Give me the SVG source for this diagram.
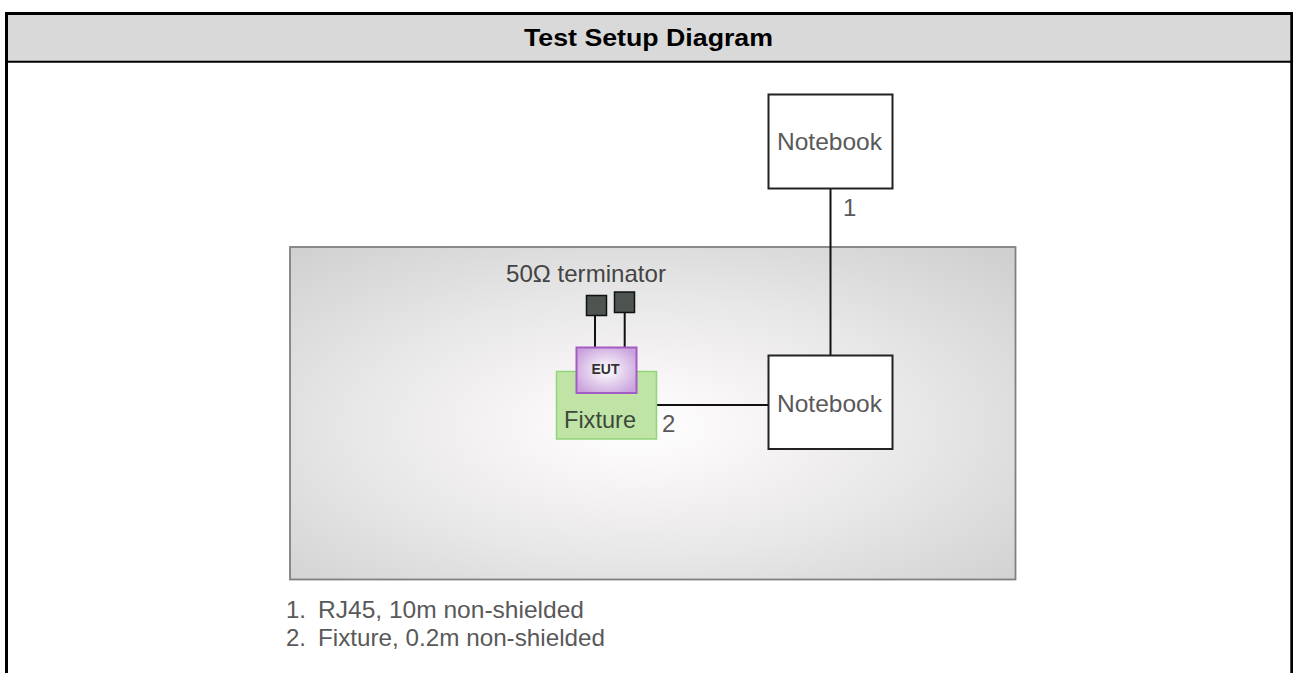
<svg xmlns="http://www.w3.org/2000/svg" width="1293" height="673" viewBox="0 0 1293 673">
<style>
.lbl{font-family:"Liberation Sans",Arial,sans-serif;font-size:24px;fill:#595959}
.box{fill:#fff;stroke:#222;stroke-width:2}
.wire{stroke:#111;stroke-width:2;fill:none}
.term{fill:#4e544f;stroke:#111;stroke-width:1.5}
</style>
<defs>
<radialGradient id="bg" cx="0.48" cy="0.54" r="0.72">
<stop offset="0" stop-color="#ffffff"/>
<stop offset="0.15" stop-color="#faf8f9"/>
<stop offset="0.35" stop-color="#f1eff0"/>
<stop offset="0.55" stop-color="#e8e7e8"/>
<stop offset="0.72" stop-color="#dedede"/>
<stop offset="1" stop-color="#d0d0d0"/>
</radialGradient>
<radialGradient id="eutg" cx="0.5" cy="0.5" r="0.6">
<stop offset="0" stop-color="#ffffff"/>
<stop offset="1" stop-color="#c9a2dc"/>
</radialGradient>
</defs>
<rect width="1293" height="673" fill="#fff"/>
<g id="frame">
<rect x="8" y="15" width="1283" height="46" fill="#d9d9d9"/>
<line x1="8" y1="61.7" x2="1291" y2="61.7" stroke="#000" stroke-width="2"/>
<path d="M6.5 673 V13.5 H1291.8 V673" fill="none" stroke="#000" stroke-width="3"/>
<text x="524" y="46" textLength="249" lengthAdjust="spacingAndGlyphs" font-family="Liberation Sans,Arial,sans-serif" font-size="24.5" font-weight="bold" fill="#000">Test Setup Diagram</text>
</g>
<g id="chamber">
<rect x="290" y="247" width="725.5" height="332.5" fill="url(#bg)" stroke="#808080" stroke-width="1.8"/>
</g>
<g id="connectors">
<line class="wire" x1="830.5" y1="188" x2="830.5" y2="355"/>
<line class="wire" x1="657" y1="405" x2="768" y2="405"/>
<line class="wire" x1="595" y1="316" x2="595" y2="347"/>
<line class="wire" x1="624.7" y1="313" x2="624.7" y2="347"/>
<text class="lbl" x="843" y="216" font-size="22">1</text>
<text class="lbl" x="662" y="432" font-size="22">2</text>
</g>
<g id="notebook1">
<rect class="box" x="768.5" y="94.5" width="124" height="94"/>
<text class="lbl" x="777" y="150" textLength="105" lengthAdjust="spacingAndGlyphs">Notebook</text>
</g>
<g id="notebook2">
<rect class="box" x="768.5" y="355.5" width="124" height="93.5"/>
<text class="lbl" x="777" y="412" textLength="105" lengthAdjust="spacingAndGlyphs">Notebook</text>
</g>
<g id="terminator">
<text class="lbl" x="506" y="282" textLength="160" lengthAdjust="spacingAndGlyphs" style="fill:#444">50Ω terminator</text>
<rect class="term" x="586.5" y="295.5" width="20" height="20"/>
<rect class="term" x="614.5" y="292" width="20" height="20.5"/>
</g>
<g id="fixture">
<rect x="556.5" y="371.5" width="100" height="67.5" fill="#bfe4a6" stroke="#8fd57a" stroke-width="1.5"/>
<text class="lbl" x="564" y="428" textLength="72" lengthAdjust="spacingAndGlyphs" style="fill:#3d4a3a">Fixture</text>
</g>
<g id="eut">
<rect x="576.5" y="347.5" width="60" height="45.5" fill="url(#eutg)" stroke="#a35cc4" stroke-width="2"/>
<text x="605.5" y="374" text-anchor="middle" font-family="Liberation Sans,Arial,sans-serif" font-size="14" font-weight="bold" fill="#333">EUT</text>
</g>
<g id="legend">
<text class="lbl" y="618"><tspan x="286">1.</tspan><tspan x="318" textLength="266" lengthAdjust="spacingAndGlyphs">RJ45, 10m non-shielded</tspan></text>
<text class="lbl" y="646"><tspan x="286">2.</tspan><tspan x="318" textLength="287" lengthAdjust="spacingAndGlyphs">Fixture, 0.2m non-shielded</tspan></text>
</g>
</svg>
